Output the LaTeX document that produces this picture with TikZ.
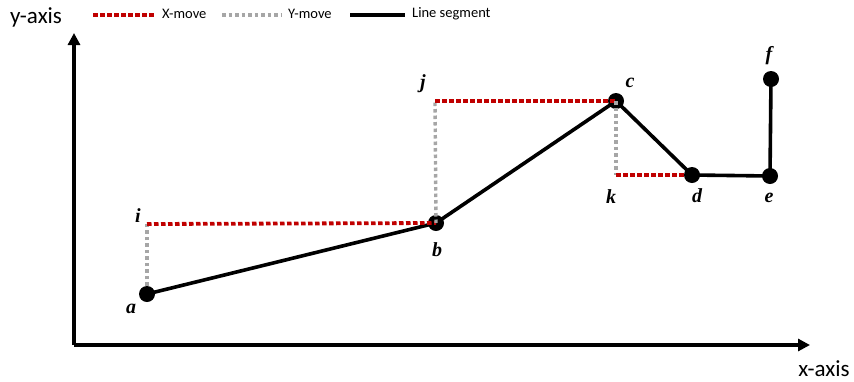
\documentclass[tikz,border=0pt]{standalone}
\usepackage{fontspec}
\setmainfont{Liberation Serif}
\newfontfamily\axfont{Carlito}
\usetikzlibrary{arrows.meta}
\definecolor{xred}{HTML}{C00000}
\definecolor{ygray}{HTML}{A6A6A6}
\tikzset{
  axisline/.style={line width=3.6pt,-{Triangle[length=12pt,width=12pt]}},
  seg/.style={line width=3.6pt,black},
  xmove/.style={line width=3.8pt,xred,dash pattern=on 4.5pt off 2.5pt},
  ymove/.style={line width=3.4pt,ygray,dash pattern=on 3.5pt off 3pt},
  dot/.style={circle,fill=black,inner sep=0pt,minimum size=16pt},
  ptlabel/.style={font=\fontsize{20}{22}\selectfont\bfseries\itshape,inner sep=0pt},
  axlabel/.style={font=\axfont\fontsize{23}{26}\selectfont,inner sep=0pt},
  leglabel/.style={font=\axfont\fontsize{14.5}{17}\selectfont,inner sep=0pt,anchor=west}
}
\begin{document}
\begin{tikzpicture}[x=1pt,y=-1pt]
\useasboundingbox (0,0) rectangle (854,381);
% axes
\coordinate (O) at (74,345);
\coordinate (Ytip) at (74,33);
\coordinate (Xtip) at (810,345);
\draw[axisline] (O) -- (Ytip);
\draw[axisline] (O) -- (Xtip);
\node[axlabel] (ylab) at (36,17) {y-axis};
\node[axlabel] (xlab) at (824,369) {x-axis};
% legend
\coordinate (l1a) at (93,15); \coordinate (l1b) at (156,15);
\coordinate (l2a) at (222,15); \coordinate (l2b) at (282,15);
\coordinate (l3a) at (350,15); \coordinate (l3b) at (405,15);
\draw[xmove] (l1a) -- (l1b);
\draw[ymove] (l2a) -- (l2b);
\draw[line width=4.5pt] (l3a) -- (l3b);
\node[leglabel] (t1) at (162,14) {X-move};
\node[leglabel] (t2) at (288,14) {Y-move};
\node[leglabel] (t3) at (412,14) {Line segment};
% points
\node[dot] (a) at (147,294) {};
\node[dot] (b) at (436,223) {};
\node[dot] (c) at (616,101) {};
\node[dot] (d) at (692,175) {};
\node[dot] (e) at (770,176) {};
\node[dot] (f) at (771,79) {};
\coordinate (i) at (147,224);
\coordinate (j) at (435,101);
\coordinate (k) at (616,175);
% segments
\draw[seg] (a.center) -- (b.center) -- (c.center) -- (d.center) -- (e.center) -- (f.center);
% moves
\draw[ymove] (a.north) -- (i);
\draw[xmove] (i) -- (b.center);
\draw[ymove] (b.center) -- (j);
\draw[xmove] (j) -- (c.center);
\draw[ymove] (c.center) -- (k);
\draw[xmove] (k) -- (d.west);
% labels
\node[ptlabel] (la) at (131,309) {a};
\node[ptlabel] (lb) at (437,250) {b};
\node[ptlabel] (lc) at (630,83) {c};
\node[ptlabel] (ld) at (697,196) {d};
\node[ptlabel] (le) at (769,198) {e};
\node[ptlabel] (lf) at (769,56) {f};
\node[ptlabel] (li) at (138,216) {i};
\node[ptlabel] (lj) at (423,84) {j};
\node[ptlabel] (lk) at (611,197) {k};
\end{tikzpicture}
\end{document}
